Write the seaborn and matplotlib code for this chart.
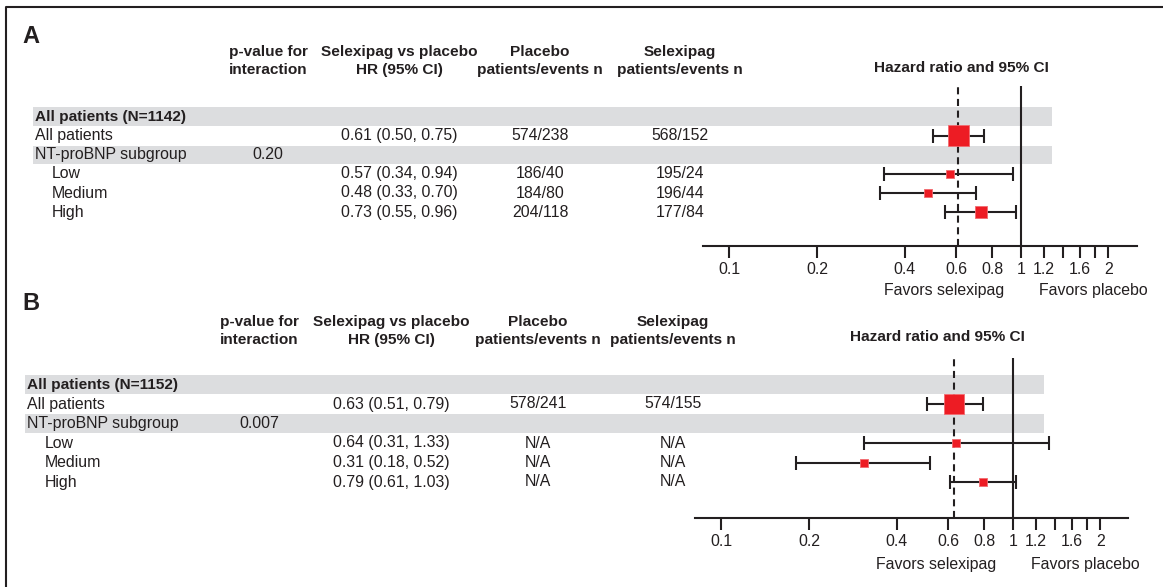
import matplotlib
matplotlib.use("Agg")
import matplotlib.pyplot as plt
import seaborn as sns
import pandas as pd
from matplotlib.patches import Rectangle
from matplotlib.ticker import NullLocator

sns.set_theme(style="white")
plt.rcParams["font.family"] = ["Liberation Sans", "DejaVu Sans"]

# ---- data ----
col_headers = [("p-value for", "interaction"),
               ("Selexipag vs placebo", "HR (95% CI)"),
               ("Placebo", "patients/events n"),
               ("Selexipag", "patients/events n")]
forest_title = "Hazard ratio and 95% CI"
subgroups = ["Low", "Medium", "High"]

a_total_n = 1142
a_pval = "0.20"
a_hr = [0.61, 0.57, 0.48, 0.73]
a_lo = [0.50, 0.34, 0.33, 0.55]
a_hi = [0.75, 0.94, 0.70, 0.96]
a_placebo = ["574/238", "186/40", "184/80", "204/118"]
a_selexipag = ["568/152", "195/24", "196/44", "177/84"]

b_total_n = 1152
b_pval = "0.007"
b_hr = [0.63, 0.64, 0.31, 0.79]
b_lo = [0.51, 0.31, 0.18, 0.61]
b_hi = [0.79, 1.33, 0.52, 1.03]
b_placebo = ["578/241", "N/A", "N/A", "N/A"]
b_selexipag = ["574/155", "N/A", "N/A", "N/A"]

tick_values = [0.1, 0.2, 0.4, 0.6, 0.8, 1, 1.2, 1.4, 1.6, 1.8, 2]
tick_labels = ["0.1", "0.2", "0.4", "0.6", "0.8", "1", "1.2", "", "1.6", "", "2"]
favors = ("Favors selexipag", "Favors placebo")

# ---- style / layout (pixels) ----
W, H = 1163, 587
DARK = "#231f20"
RED = "#ed1c24"
BAND = "#dcdddf"
FS = 11.4      # regular text
FSB = 11.1     # bold headers
DEC = 291.5    # px per decade on the HR axis

layout = {
    "A": dict(letter_y=36.5, head1=52, head2=70, haz_x=961, haz_y=68,
              row0=116.6, drow=19.1, ax_top=85.7, ax_bottom=245.7,
              ax_left=703, ax_right=1137, x_one=1020.7, favors_y=290,
              lab=35, sub=52, pval=268, hr=399, plac=540, selx=680,
              band=(33, 1052), box=[21, 8, 8.3, 11.7]),
    "B": dict(letter_y=303, head1=322, head2=340, haz_x=937, haz_y=337,
              row0=384.5, drow=19.5, ax_top=357.5, ax_bottom=518.3,
              ax_left=695, ax_right=1128.3, x_one=1012.7, favors_y=565,
              lab=27, sub=45, pval=259, hr=391, plac=538, selx=673,
              band=(25, 1044), box=[20, 8.3, 8, 8.3]),
}

fig = plt.figure(figsize=(W / 100, H / 100), dpi=100)
bg = fig.add_axes([0, 0, 1, 1])
bg.set_xlim(0, W)
bg.set_ylim(H, 0)
bg.axis("off")

# frame (left and top edges visible)
bg.plot([5.5, 5.5, W + 5], [H + 5, 6.5, 6.5], color=DARK, lw=1.5, clip_on=False)


def draw_panel(letter, total_n, pval, hr, lo, hi, placebo, selexipag):
    L = layout[letter]
    ry = lambda i: L["row0"] + L["drow"] * i

    bg.text(22, L["letter_y"], letter, fontsize=17, fontweight="bold",
            color=DARK, ha="left", va="center")

    cols = [L["pval"], L["hr"], L["plac"], L["selx"]]
    for cx, (h1, h2) in zip(cols, col_headers):
        bg.text(cx, L["head1"], h1, fontsize=FSB, fontweight="bold", color=DARK,
                ha="center", va="center")
        bg.text(cx, L["head2"], h2, fontsize=FSB, fontweight="bold", color=DARK,
                ha="center", va="center")
    bg.text(L["haz_x"], L["haz_y"], forest_title, fontsize=FSB, fontweight="bold",
            color=DARK, ha="center", va="center")

    # shaded rows
    x0, x1 = L["band"]
    for i in (0, 2):
        bg.add_patch(Rectangle((x0, ry(i) - L["drow"] * 0.48), x1 - x0,
                               L["drow"] * 0.96, color=BAND, lw=0, zorder=0))

    bg.text(L["lab"], ry(0), f"All patients (N={total_n})", fontsize=FSB,
            fontweight="bold", color=DARK, va="center")
    bg.text(L["lab"], ry(1), "All patients", fontsize=FS, color=DARK, va="center")
    bg.text(L["lab"], ry(2), "NT-proBNP subgroup", fontsize=FS, color=DARK, va="center")
    bg.text(L["pval"], ry(2), pval, fontsize=FS, color=DARK, ha="center", va="center")
    for k, name in enumerate(subgroups):
        bg.text(L["sub"], ry(3 + k), name, fontsize=FS, color=DARK, va="center")

    rows = [1, 3, 4, 5]
    for r, h, l, u, p, s in zip(rows, hr, lo, hi, placebo, selexipag):
        bg.text(L["hr"], ry(r), f"{h:.2f} ({l:.2f}, {u:.2f})", fontsize=FS,
                color=DARK, ha="center", va="center")
        bg.text(L["plac"], ry(r), p, fontsize=FS, color=DARK, ha="center", va="center")
        bg.text(L["selx"], ry(r), s, fontsize=FS, color=DARK, ha="center", va="center")

    # forest axes
    left, right = L["ax_left"], L["ax_right"]
    top, bottom = L["ax_top"], L["ax_bottom"]
    ax = fig.add_axes([left / W, 1 - bottom / H, (right - left) / W, (bottom - top) / H])
    ax.patch.set_alpha(0)
    ax.set_xscale("log")
    ax.set_xlim(10 ** ((left - L["x_one"]) / DEC), 10 ** ((right - L["x_one"]) / DEC))
    ax.set_ylim((bottom - L["row0"]) / L["drow"], (top - L["row0"]) / L["drow"])

    df = pd.DataFrame({"hr": hr, "lo": lo, "hi": hi, "row": rows,
                       "box": [(b * 0.72) ** 2 for b in L["box"]]})
    ax.axvline(1, color=DARK, lw=1.5, zorder=1)
    ax.axvline(hr[0], color=DARK, lw=1.5, ls=(0, (3.4, 2.2)), zorder=1)
    ax.errorbar(df["hr"], df["row"], xerr=[df["hr"] - df["lo"], df["hi"] - df["hr"]],
                fmt="none", ecolor=DARK, elinewidth=1.5, capsize=4.7, capthick=1.5,
                zorder=2)
    sns.scatterplot(data=df, x="hr", y="row", marker="s", s=df["box"].tolist(),
                    color=RED, edgecolor="#f26b70", linewidth=0.6, ax=ax,
                    zorder=3, legend=False)

    for side in ("top", "left", "right"):
        ax.spines[side].set_visible(False)
    ax.spines["bottom"].set_color(DARK)
    ax.spines["bottom"].set_linewidth(1.5)
    ax.set_yticks([])
    ax.set_xticks(tick_values)
    ax.set_xticklabels(tick_labels)
    ax.xaxis.set_minor_locator(NullLocator())
    ax.tick_params(axis="x", direction="out", length=8.6, width=1.5, color=DARK,
                   labelsize=FS, labelcolor=DARK, pad=3.0, bottom=True)
    ax.set_xlabel("")
    ax.set_ylabel("")

    bg.text(left + 241, L["favors_y"], favors[0], fontsize=FS, color=DARK,
            ha="center", va="center")
    bg.text(left + 390, L["favors_y"], favors[1], fontsize=FS, color=DARK,
            ha="center", va="center")


draw_panel("A", a_total_n, a_pval, a_hr, a_lo, a_hi, a_placebo, a_selexipag)
draw_panel("B", b_total_n, b_pval, b_hr, b_lo, b_hi, b_placebo, b_selexipag)

fig.savefig("out.png", dpi=100)
